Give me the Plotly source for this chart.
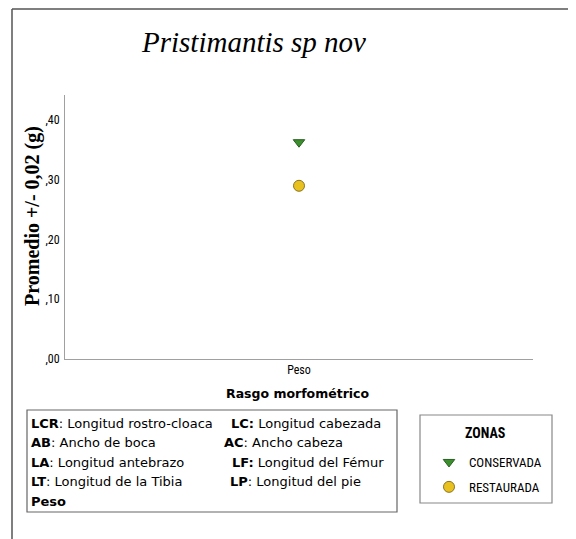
import plotly.graph_objects as go

categories = ["Peso"]
zonas = ["CONSERVADA", "RESTAURADA"]
conservada = [0.363]
restaurada = [0.290]
y_ticks = [0.0, 0.1, 0.2, 0.3, 0.4]
y_tick_labels = [",00", ",10", ",20", ",30", ",40"]
abbrev_left = [("LCR", ": Longitud rostro-cloaca"), ("AB", ": Ancho de boca"),
               ("LA", ": Longitud antebrazo"), ("LT", ": Longitud de la Tibia"), ("Peso", "")]
abbrev_right = [("LC:", " Longitud cabezada"), ("AC", ": Ancho cabeza"),
                ("LF:", " Longitud del Fémur"), ("LP", ": Longitud del pie")]

OFF = 8  # page body margin
W, H = 576 - OFF, 539 - OFF
L, R, T, B = 65 - OFF, 533 - OFF, 95 - OFF, 359 - OFF


def px(x):
    return (x - OFF - L) / (R - L)


def py(y):
    return (B - (y - OFF)) / (B - T)


narrow = "Liberation Sans Narrow, Arial Narrow, Roboto Condensed, Liberation Sans, sans-serif"
sans = "DejaVu Sans, Verdana, sans-serif"
serif = "Liberation Serif, Times New Roman, serif"

fig = go.Figure()
fig.add_trace(go.Scatter(x=categories, y=conservada, mode="markers", name=zonas[0],
                         legendgroup="c",
                         marker=dict(symbol="triangle-down", size=10, color="#3b8f2c",
                                     line=dict(color="#2a5e22", width=1))))
fig.add_trace(go.Scatter(x=categories, y=restaurada, mode="markers", name=zonas[1],
                         legendgroup="r",
                         marker=dict(symbol="circle", size=11, color="#e8c11e",
                                     line=dict(color="#8a7420", width=1))))

fig.update_layout(
    width=W, height=H,
    margin=dict(l=L, r=W - R, t=T, b=H - B, pad=0),
    paper_bgcolor="white", plot_bgcolor="white",
    showlegend=True,
    legend=dict(x=px(429), y=py(447), xanchor="left", yanchor="top",
                bgcolor="rgba(0,0,0,0)", borderwidth=0,
                font=dict(family=narrow, size=13, color="black"),
                itemsizing="trace", traceorder="grouped", tracegroupgap=5),
    xaxis=dict(type="category", range=[-0.5, 0.5], showgrid=False, zeroline=False,
               showline=True, linecolor="#a0a0a0", linewidth=1, ticks="",
               tickfont=dict(family=narrow, size=12, color="black")),
    yaxis=dict(range=[0, 0.442], tickvals=y_ticks, ticktext=y_tick_labels,
               showgrid=False, zeroline=False, showline=True, linecolor="#a0a0a0",
               linewidth=1, ticks="", ticklabelstandoff=2,
               tickfont=dict(family=narrow, size=12, color="black")),
)

shapes = [
    dict(type="line", xref="paper", yref="paper", x0=px(12), x1=px(12), y0=py(9), y1=py(545),
         line=dict(color="#555555", width=1.5)),
    dict(type="line", xref="paper", yref="paper", x0=px(12), x1=px(580), y0=py(9), y1=py(9),
         line=dict(color="#555555", width=1.5)),
    dict(type="rect", xref="paper", yref="paper", x0=px(27), x1=px(397), y0=py(512), y1=py(410),
         line=dict(color="#666666", width=1.2)),
    dict(type="rect", xref="paper", yref="paper", x0=px(420), x1=px(552), y0=py(503), y1=py(415),
         line=dict(color="#888888", width=1.2)),
]
fig.update_layout(shapes=shapes)

ann = []
ann.append(dict(text="<i>Pristimantis sp nov</i>", xref="paper", yref="paper",
                x=px(253), y=py(42), showarrow=False, xanchor="center", yanchor="middle",
                font=dict(family=serif, size=29, color="black")))
ann.append(dict(text="<b>Promedio +/- 0,02 (g)</b>", xref="paper", yref="paper",
                x=px(32), y=py(216), showarrow=False, textangle=-90,
                xanchor="center", yanchor="middle",
                font=dict(family=serif, size=20, color="black")))
ann.append(dict(text="<b>Rasgo morfométrico</b>", xref="paper", yref="paper",
                x=px(298), y=py(393), showarrow=False, xanchor="center", yanchor="middle",
                font=dict(family=sans, size=12.5, color="black")))
ann.append(dict(text="<b>ZONAS</b>", xref="paper", yref="paper",
                x=px(485), y=py(433), showarrow=False, xanchor="center", yanchor="middle",
                font=dict(family=narrow, size=14, color="black")))

rows_y = [423, 442, 462, 481, 501]
for (abbr, desc), yy in zip(abbrev_left, rows_y):
    ann.append(dict(text=f"<b>{abbr}</b>{desc}", xref="paper", yref="paper",
                    x=px(29), y=py(yy), showarrow=False, xanchor="left", yanchor="middle",
                    font=dict(family=sans, size=13, color="black")))
right_x = [229, 222, 230, 228]
for (abbr, desc), yy, xx in zip(abbrev_right, rows_y, right_x):
    ann.append(dict(text=f"<b>{abbr}</b>{desc}", xref="paper", yref="paper",
                    x=px(xx), y=py(yy), showarrow=False, xanchor="left", yanchor="middle",
                    font=dict(family=sans, size=13, color="black")))
fig.update_layout(annotations=ann)

fig.write_html("out.html")
